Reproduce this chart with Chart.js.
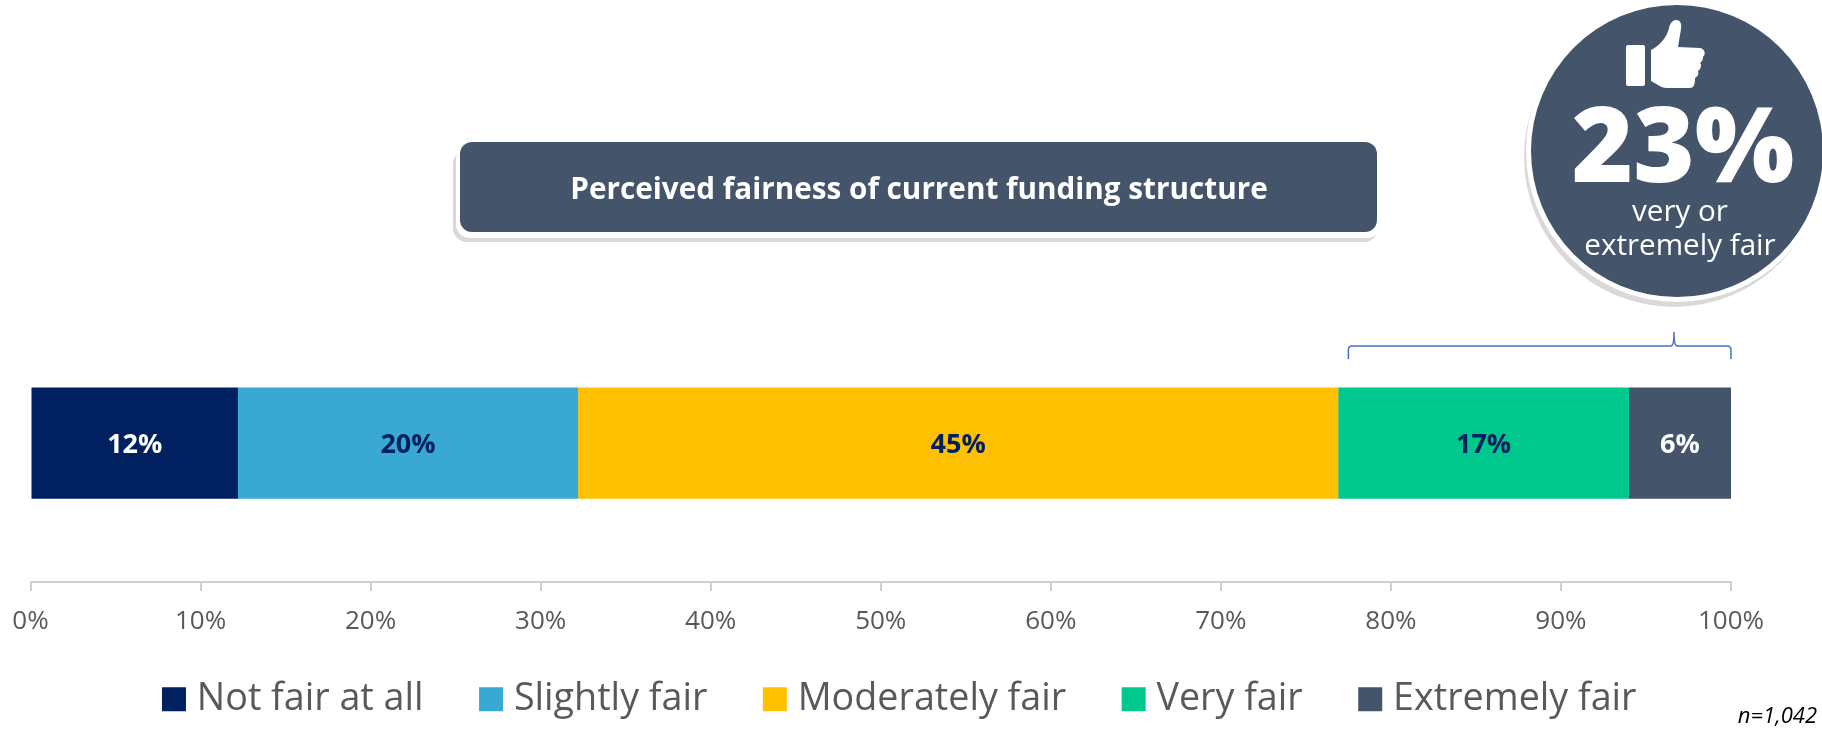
<!DOCTYPE html>
<html>
<head>
<meta charset="utf-8">
<style>html,body{margin:0;padding:0;background:#fff}canvas{display:block}</style>
<script src="https://cdn.jsdelivr.net/npm/chart.js@4"></script>
</head>
<body>
<div style="position:relative;width:1822px;height:730px"><canvas id="c" width="1822" height="730"></canvas></div>
<script>
const categories = ['Perceived fairness'];
const seriesNames = ['Not fair at all','Slightly fair','Moderately fair','Very fair','Extremely fair'];
const seriesValues = [12.2,20.0,44.7,17.1,6.0];
const seriesColors = ['#002060','#39A9D3','#FFC000','#00C88C','#44546A'];
const labelColors = ['#FFFFFF','#002060','#002060','#002060','#FFFFFF'];
const chartTitle = 'Perceived fairness of current funding structure';
const calloutValue = '23%';
const calloutLines = ['very or','extremely fair'];
const sampleNote = 'n=1,042';
const bracketRange = [77.5,100];
const FONT = '"Open Sans", sans-serif';

function rr(ctx,x,y,w,h,r){ctx.beginPath();ctx.roundRect(x,y,w,h,r);}

const overlay = {
  id:'overlay',
  afterLayout(chart){
    const l = chart.legend; l.left += 22.5; l.right += 22.5; l.top -= 35.5; l.bottom -= 35.5;
  },
  afterDraw(chart){
    const ctx = chart.ctx, x = chart.scales.x;
    ctx.save();
    // title box
    ctx.fillStyle='#D9D9D9'; rr(ctx,453,150,925,92,14); ctx.fill();
    ctx.fillStyle='#FFFFFF'; rr(ctx,456,146,925,92,14); ctx.fill();
    ctx.fillStyle='#44546A'; rr(ctx,460,142,917,90,12); ctx.fill();
    ctx.fillStyle='#FFFFFF'; ctx.font='700 29.7px '+FONT; ctx.textAlign='center'; ctx.textBaseline='alphabetic';
    ctx.fillText(chartTitle,919,199);
    // callout circle
    ctx.fillStyle='#D9D9D9'; ctx.beginPath(); ctx.arc(1674,157,150,0,Math.PI*2); ctx.fill();
    ctx.fillStyle='#FFFFFF'; ctx.beginPath(); ctx.arc(1677,151,151,0,Math.PI*2); ctx.fill();
    ctx.fillStyle='#44546A'; ctx.beginPath(); ctx.arc(1677,151,146,0,Math.PI*2); ctx.fill();
    // thumb icon
    ctx.fillStyle='#FFFFFF';
    rr(ctx,1626,45,19,41,2); ctx.fill();
    const t = new Path2D('M1651 50 C1662 44 1667 36 1669 28 C1670 23 1673 20 1676 20 C1680 20 1682 23 1681 29 L1678 47 L1700 48 C1705 49 1706 54 1703 57 C1703 60 1702 61 1700 63 C1702 65 1701 69 1698 71 C1699 74 1698 76 1695 78 C1695 84 1694 88 1690 88 L1667 88 C1660 88 1656 83 1651 81 Z');
    ctx.fill(t);
    // callout text
    ctx.font='800 105px '+FONT; ctx.textAlign='center';
    ctx.fillText(calloutValue,1683,182);
    ctx.font='400 29.6px '+FONT;
    ctx.fillText(calloutLines[0],1680,221);
    ctx.fillText(calloutLines[1],1680,255);
    // bracket spanning the top-two range
    const x0=x.getPixelForValue(bracketRange[0]), x1=x.getPixelForValue(bracketRange[1]), xm=1674;
    ctx.strokeStyle='#4472C4'; ctx.lineWidth=1.5;
    ctx.beginPath();
    ctx.moveTo(x0,359); ctx.lineTo(x0,350); ctx.quadraticCurveTo(x0,346,x0+4,346);
    ctx.lineTo(xm-3,346); ctx.quadraticCurveTo(xm,346,xm,332);
    ctx.quadraticCurveTo(xm,346,xm+3,346);
    ctx.lineTo(x1-4,346); ctx.quadraticCurveTo(x1,346,x1,350); ctx.lineTo(x1,359);
    ctx.stroke();
    // bar value labels
    ctx.font='700 27px '+FONT; ctx.textAlign='center'; ctx.textBaseline='middle';
    chart.data.datasets.forEach((d,i)=>{
      const el = chart.getDatasetMeta(i).data[0];
      ctx.fillStyle = labelColors[i];
      ctx.fillText(Math.round(d.data[0])+'%',(el.base+el.x)/2,el.y+2);
    });
    // sample note
    ctx.fillStyle='#000000'; ctx.font='italic 400 22px '+FONT; ctx.textAlign='right'; ctx.textBaseline='middle';
    ctx.fillText(sampleNote,1817,717);
    ctx.restore();
  }
};

new Chart(document.getElementById('c'),{
  type:'bar',
  data:{
    labels:categories,
    datasets:seriesNames.map((n,i)=>({label:n,data:[seriesValues[i]],backgroundColor:seriesColors[i],borderWidth:0,barPercentage:0.4,categoryPercentage:1}))
  },
  options:{
    indexAxis:'y',responsive:false,animation:false,
    layout:{padding:{top:304,left:30.5,right:91,bottom:-33.5}},
    plugins:{
      title:{display:false},tooltip:{enabled:false},
      legend:{position:'bottom',labels:{usePointStyle:true,pointStyle:'rect',boxWidth:8,boxHeight:24,padding:63.5,color:'#595959',font:{family:FONT,size:37.7}}}
    },
    scales:{
      x:{stacked:true,min:0,max:100,
        afterFit(s){s.paddingLeft=0;s.paddingRight=0;},
        grid:{drawOnChartArea:false,drawTicks:true,tickLength:9,color:'#D0D0D0',lineWidth:2},
        border:{display:true,color:'#D0D0D0',width:2},
        ticks:{stepSize:10,callback:v=>v+'%',color:'#595959',padding:15,maxRotation:0,font:{family:FONT,size:26}}},
      y:{stacked:true,display:false}
    }
  },
  plugins:[overlay]
});
</script>
</body>
</html>
